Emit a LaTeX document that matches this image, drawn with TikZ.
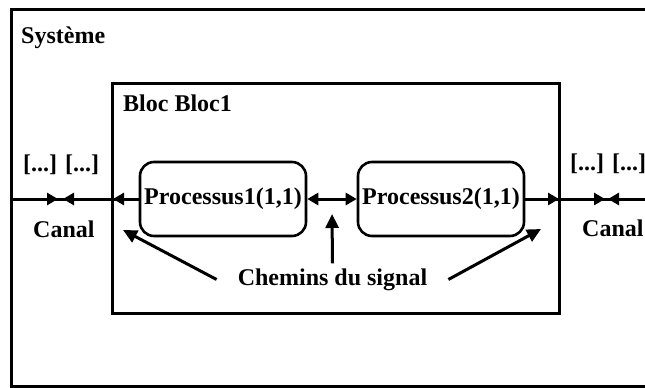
\documentclass[tikz,border=0pt]{standalone}
\usepackage{fontspec}
\setmainfont{Liberation Serif}
\usetikzlibrary{arrows.meta}
\begin{document}
\begin{tikzpicture}[x=1pt,y=-1pt,
  lbl/.style={font=\fontsize{24}{28}\selectfont\bfseries, inner sep=0pt},
  frame/.style={line width=3pt},
  proc/.style={draw, line width=2.6pt, rounded corners=14pt, minimum width=166pt,
    minimum height=74pt, inner sep=0pt, font=\fontsize{24}{28}\selectfont\bfseries},
  wire/.style={line width=3pt},
  tipr/.style={line width=3pt, -{Triangle[length=11pt,width=12pt]}},
  ptr/.style={line width=3pt, -{Triangle[length=14pt,width=13pt]}}
]
\useasboundingbox (0,0) rectangle (645,388);
% frames
\draw[frame] (11,9) rectangle (700,386);
\node[lbl, anchor=base west] (sys) at (21,43) {Système};
\draw[frame] (112,83) rectangle (559,313);
\node[lbl, anchor=base west] (bloc) at (123,111) {Bloc Bloc1};
% processes
\node[proc] (p1) at (223,199) {Processus1(1,1)};
\node[proc] (p2) at (441,199) {Processus2(1,1)};
% coordinates
\coordinate (sysL) at (11,199);
\coordinate (blocL) at (113,199);
\coordinate (blocR) at (559,199);
\coordinate (sysR) at (700,199);
\coordinate (cL1) at (58,199);
\coordinate (cL2) at (63,199);
\coordinate (cR1) at (605,199);
\coordinate (cR2) at (608,199);
% left channel and signal route
\draw[wire] (sysL) -- (p1.west);
\draw[tipr] (p1.west) -- (blocL);
\draw[tipr] (sysL) -- (cL1);
\draw[tipr] (blocL) -- (cL2);
% middle route
\draw[line width=3pt, {Triangle[length=11pt,width=12pt]}-{Triangle[length=11pt,width=12pt]}] (p1.east) -- (p2.west);
% right route and channel
\draw[wire] (p2.east) -- (sysR);
\draw[tipr] (p2.east) -- (blocR);
\draw[tipr] (blocR) -- (cR1);
\draw[tipr] (sysR) -- (cR2);
% labels
\node[lbl, anchor=base west] (lblL) at (23,171) {[...] [...]};
\node[lbl, anchor=base west] (canL) at (33,237) {Canal};
\node[lbl, anchor=base west] (lblR) at (570,170) {[...] [...]};
\node[lbl, anchor=base west] (canR) at (582,236) {Canal};
% signal path note
\node[lbl, inner xsep=21pt, inner ysep=5pt] (chem) at (332.5,279.5) {Chemins du signal};
\coordinate (tipA) at (123,230);
\coordinate (tipB) at (332,214);
\coordinate (tipC) at (541,229);
\draw[ptr] (chem.west) -- (tipA);
\draw[ptr] (chem.north) -- (tipB);
\draw[ptr] (chem.east) -- (tipC);
\end{tikzpicture}
\end{document}
